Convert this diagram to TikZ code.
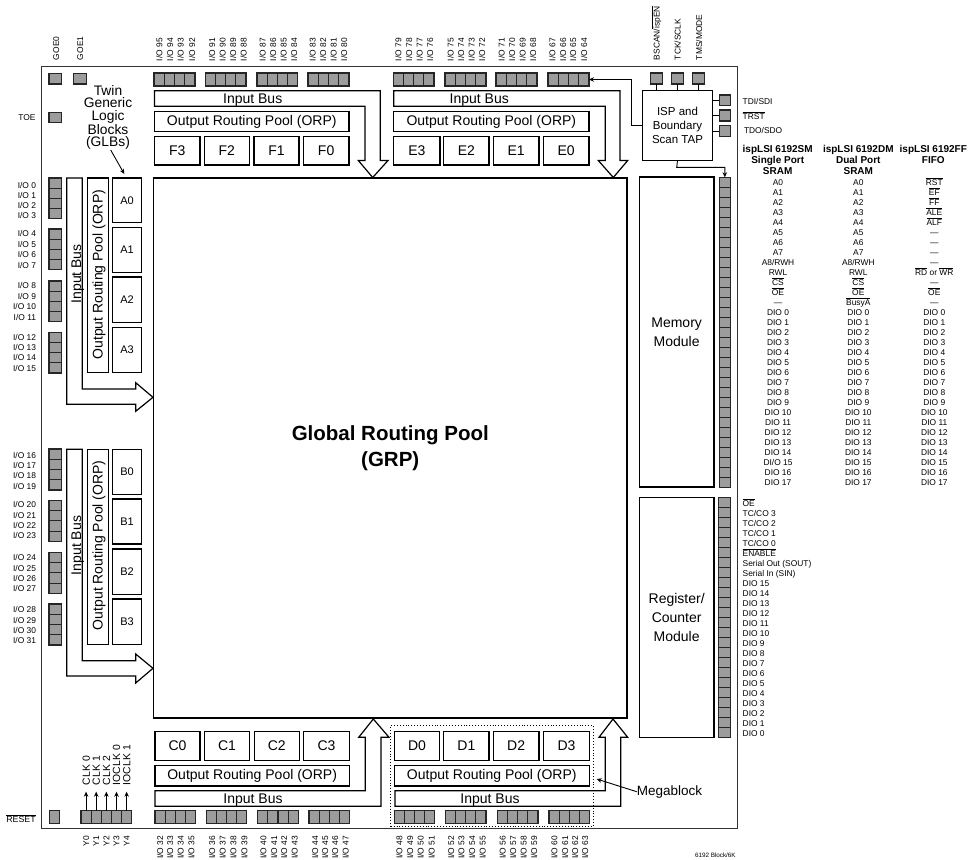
\documentclass[tikz,border=0pt]{standalone}
\usepackage{fontspec}
\setmainfont{Liberation Sans}
\usetikzlibrary{arrows.meta}
\definecolor{padgray}{HTML}{9C9C9C}
\definecolor{padline}{HTML}{262626}
\newcommand{\ol}[1]{$\overline{\mbox{#1}}$}
\newcommand{\bx}[6][]{%
  \pgfmathsetmacro\bxw{#5-#3}\pgfmathsetmacro\bxh{#6-#4}%
  \node[blockbox,minimum width=\bxw pt,minimum height=\bxh pt,#1] (#2) at ({(#3+#5)/2},{(#4+#6)/2}) {};}
\newcommand{\bxt}[7][]{%
  \pgfmathsetmacro\bxw{#5-#3}\pgfmathsetmacro\bxh{#6-#4}%
  \node[blockbox,minimum width=\bxw pt,minimum height=\bxh pt,#1] (#2) at ({(#3+#5)/2},{(#4+#6)/2}) {#7};}
\newcommand{\padsH}[6]{%
  \pgfmathsetmacro\pw{(#4-#2)/#6}\pgfmathsetmacro\ph{#5-#3}%
  \foreach \i in {1,...,#6}{%
    \node[padcell,minimum width=\pw pt,minimum height=\ph pt] (#1-\i) at ({#2+(\i-0.5)*\pw},{(#3+#5)/2}) {};}}
\newcommand{\padsV}[6]{%
  \pgfmathsetmacro\pw{#4-#2}\pgfmathsetmacro\ph{(#5-#3)/#6}%
  \foreach \i in {1,...,#6}{%
    \node[padcell,minimum width=\pw pt,minimum height=\ph pt] (#1-\i) at ({(#2+#4)/2},{#3+(\i-0.5)*\ph}) {};}}
\tikzset{
  blockbox/.style={draw=black,line width=1.2pt,inner sep=0pt,outer sep=0pt,align=center,font=\fontsize{14}{16}\selectfont},
  glbsmall/.style={font=\fontsize{11}{13}\selectfont},
  padcell/.style={draw=padline,fill=padgray,line width=1.1pt,inner sep=0pt,outer sep=0pt},
  busline/.style={draw=black,line width=1.2pt,line join=miter},
  pin/.style={inner sep=0pt,outer sep=0pt,font=\fontsize{8.4}{10}\selectfont,text height=6pt,text depth=0pt},
  busname/.style={inner sep=0pt,outer sep=0pt,font=\fontsize{14}{16}\selectfont,text height=10pt,text depth=0pt},
  headtext/.style={inner sep=0pt,outer sep=0pt,font=\bfseries\fontsize{10}{11}\selectfont,text height=7.2pt,text depth=0pt},
  wire/.style={draw=black,line width=0.9pt},
  wirearrow/.style={draw=black,line width=0.9pt,-{Stealth[length=5pt,width=4.5pt]}}
}
\begin{document}
\begin{tikzpicture}[x=1pt,y=-1pt]
\useasboundingbox (0,0) rectangle (976,859);
% frame
\bx[line width=0.9pt,draw=black!80]{frame}{41.6}{66.7}{737.7}{828.3}
% global routing pool
\bxt[line width=1.8pt,font=\bfseries\fontsize{20.5}{26}\selectfont]{grp}{153.5}{178}{627}{718}{Global Routing Pool\\(GRP)}
% top pads
\padsH{goeA}{49}{73.3}{61.7}{84}{1}
\padsH{goeB}{73.7}{73.3}{86.7}{84}{1}
\padsH{toep}{49}{112.3}{61.7}{122.3}{1}
\padsH{pF1}{154}{73}{195}{86}{4}
\padsH{pF2}{205.5}{73}{246}{86}{4}
\padsH{pF3}{257}{73}{297.5}{86}{4}
\padsH{pF4}{308}{73}{349}{86}{4}
\padsH{pE1}{393.3}{73}{434}{86}{4}
\padsH{pE2}{445}{73}{486}{86}{4}
\padsH{pE3}{496}{73}{537}{86}{4}
\padsH{pE4}{548}{73}{589}{86}{4}
% left pads
\padsV{pL1}{49}{178}{61.7}{218.3}{4}
\padsV{pL2}{49}{229}{61.7}{269.7}{4}
\padsV{pL3}{49}{281}{61.7}{321.7}{4}
\padsV{pL4}{49}{332.3}{61.7}{373}{4}
\padsV{pL5}{49}{449}{61.7}{490}{4}
\padsV{pL6}{49}{500.3}{61.7}{541.5}{4}
\padsV{pL7}{49}{552.3}{61.7}{593.3}{4}
\padsV{pL8}{49}{604}{61.7}{645}{4}
% bottom pads
\padsH{pC1}{155}{810.7}{195.7}{823.3}{4}
\padsH{pC2}{206.3}{810.7}{246.7}{823.3}{4}
\padsH{pC3}{257.7}{810.7}{298.3}{823.3}{4}
\padsH{pC4}{309}{810.7}{349.7}{823.3}{4}
\padsH{pD1}{394.3}{810.7}{434.7}{823.3}{4}
\padsH{pD2}{445.7}{810.7}{486}{823.3}{4}
\padsH{pD3}{497.3}{810.7}{538}{823.3}{4}
\padsH{pD4}{549}{810.7}{589.7}{823.3}{4}
\padsH{py}{81}{810.7}{131.7}{823.3}{5}
\padsH{prst}{49.3}{810.7}{59.3}{823.3}{1}
% right pads
\padsV{pMem}{719.3}{177.3}{730.3}{487.3}{31}
\padsV{pReg}{718.6}{497.7}{730.6}{737.7}{24}
% ORP boxes
\bxt{orpF}{154.5}{111.5}{349}{131.7}{Output Routing Pool (ORP)}
\bxt{orpE}{393.7}{111.5}{589}{131.7}{Output Routing Pool (ORP)}
\bxt{orpC}{155}{765.7}{349.3}{786}{Output Routing Pool (ORP)}
\bxt{orpD}{394.3}{765.7}{589.3}{786}{Output Routing Pool (ORP)}
\bx{orpA}{87.7}{178}{108.3}{372.7}
\bx{orpB}{87.7}{449.3}{108.3}{644.7}
\node[busname,rotate=90] (orpAt) at (97.7,274.7) {Output Routing Pool (ORP)};
\node[busname,rotate=90] (orpBt) at (97.7,545.3) {Output Routing Pool (ORP)};
% GLB boxes
\bxt{F3}{154.7}{136.5}{200}{165}{F3}
\bxt{F2}{204.3}{136.5}{249.3}{165}{F2}
\bxt{F1}{254}{136.5}{299}{165}{F1}
\bxt{F0}{303.3}{136.5}{349}{165}{F0}
\bxt{E3}{393.7}{136.5}{440}{165}{E3}
\bxt{E2}{443.7}{136.5}{489}{165}{E2}
\bxt{E1}{493.3}{136.5}{539}{165}{E1}
\bxt{E0}{543.3}{136.5}{589}{165}{E0}
\bxt{C0}{155}{731.7}{200}{760.3}{C0}
\bxt{C1}{204.3}{731.7}{249.7}{760.3}{C1}
\bxt{C2}{254.3}{731.7}{299.3}{760.3}{C2}
\bxt{C3}{303.7}{731.7}{349.3}{760.3}{C3}
\bxt{D0}{394.3}{731.7}{439.7}{760.3}{D0}
\bxt{D1}{443.7}{731.7}{489}{760.3}{D1}
\bxt{D2}{493.3}{731.7}{539}{760.3}{D2}
\bxt{D3}{543.7}{731.7}{589.3}{760.3}{D3}
\bxt[glbsmall]{A0}{112.7}{178}{141.3}{222.7}{A0}
\bxt[glbsmall]{A1}{112.7}{227.3}{141.3}{272.7}{A1}
\bxt[glbsmall]{A2}{112.7}{277}{141.3}{322.7}{A2}
\bxt[glbsmall]{A3}{112.7}{327.3}{141.3}{372.7}{A3}
\bxt[glbsmall]{B0}{112.7}{449.3}{141.3}{494.3}{B0}
\bxt[glbsmall]{B1}{112.7}{499}{141.3}{544}{B1}
\bxt[glbsmall]{B2}{112.7}{549}{141.3}{594.3}{B2}
\bxt[glbsmall]{B3}{112.7}{599}{141.3}{644.7}{B3}
% input buses
\draw[busline] (154.5,90.7) -- (380.3,90.7) -- (380.3,160.5) -- (388,160.5) -- (372.7,177.5) -- (358.3,160.5) -- (365,160.5) -- (365,106.3) -- (154.5,106.3) -- cycle;
\draw[busline] (393.7,90.7) -- (620,90.7) -- (620,160.5) -- (627.7,160.5) -- (613.3,177.5) -- (598.3,160.5) -- (605.3,160.5) -- (605.3,106.3) -- (393.7,106.3) -- cycle;
\draw[busline] (155,806.3) -- (381,806.3) -- (381,737.3) -- (389,737.3) -- (373.3,719) -- (358.7,737.3) -- (365.3,737.3) -- (365.3,790.7) -- (155,790.7) -- cycle;
\draw[busline] (395,806.3) -- (620.7,806.3) -- (620.7,737.3) -- (627.7,737.3) -- (613,719) -- (599,737.3) -- (605.3,737.3) -- (605.3,790.7) -- (395,790.7) -- cycle;
\draw[busline] (66.7,178) -- (82.3,178) -- (82.3,389) -- (135.7,389) -- (135.7,382.7) -- (153,397.3) -- (135.7,411.3) -- (135.7,404.3) -- (66.7,404.3) -- cycle;
\draw[busline] (66.7,449.3) -- (82.3,449.3) -- (82.3,660.7) -- (135.7,660.7) -- (135.7,654) -- (153,668.3) -- (135.7,683) -- (135.7,676) -- (66.7,676) -- cycle;
\node[busname] (ibF) at (252.7,98) {Input Bus};
\node[busname] (ibE) at (479.3,98) {Input Bus};
\node[busname] (ibC) at (253,798.5) {Input Bus};
\node[busname] (ibD) at (490,798.5) {Input Bus};
\node[busname,rotate=90] (ibA) at (76,273.8) {Input Bus};
\node[busname,rotate=90] (ibB) at (76,545.5) {Input Bus};
% megablock
\node[draw=black,dotted,line width=0.9pt,inner sep=0pt,minimum width=202.6pt,minimum height=100.6pt] (megabox) at (492,776) {};
\node[inner sep=0pt,anchor=west,font=\fontsize{13.5}{15}\selectfont] (megablock) at (636.7,791.7) {Megablock};
\coordinate (megaend) at (596.7,779);
\draw[wirearrow] (megablock.west) -- (megaend);
% twin GLB label
\node[inner sep=0pt,align=center,font=\fontsize{13.8}{12.4}\selectfont] (twin) at (108,117.5) {Twin\\Generic\\Logic\\Blocks\\(GLBs)};
\coordinate (twinend) at (124.3,174);
\coordinate (twinstart) at (110.7,150);
\draw[wirearrow] (twinstart) -- (twinend);
% TAP
\bxt[font=\fontsize{11.5}{14.2}\selectfont]{tap}{642.3}{90.3}{712.7}{160.7}{ISP and\\Boundary\\Scan TAP}
\padsH{ptB}{650.7}{73}{662.3}{84}{1}
\padsH{ptC}{671.7}{73}{683.7}{84}{1}
\padsH{ptM}{692.7}{73}{704.7}{84}{1}
\padsH{prI}{719.3}{95}{730.3}{105.7}{1}
\padsH{prR}{719.3}{110}{730.3}{121}{1}
\padsH{prO}{719.3}{125.7}{730.3}{136.5}{1}
\draw[wire] (ptB-1.south) -- (ptB-1.south |- tap.north);
\draw[wire] (ptC-1.south) -- (ptC-1.south |- tap.north);
\draw[wire] (ptM-1.south) -- (ptM-1.south |- tap.north);
\draw[wire] (prI-1.west) -- (prI-1.west -| tap.east);
\draw[wire] (prR-1.west) -- (prR-1.west -| tap.east);
\draw[wire] (prO-1.west) -- (prO-1.west -| tap.east);
\coordinate (tapbend) at (631.7,125.5);
\draw[wirearrow] (tap.west) -- (tapbend) |- (pE4-4.east);
\coordinate (tapdrop) at (676.7,167.3);
\draw[wirearrow] (tap.south) -- (tapdrop) -| (pMem-1.north);
% modules
\bxt{mem}{639.3}{177}{714}{487}{Memory\\[3pt]Module}
\bxt{reg}{639.3}{497.5}{714}{737.7}{Register/\\[3pt]Counter\\[3pt]Module}
% clock arrows
\foreach \t [count=\i] in {CLK 0,CLK 1,CLK 2,IOCLK 0,IOCLK 1}{
  \node[pin,rotate=90,anchor=west,font=\fontsize{10.4}{12}\selectfont,text height=7.4pt] (clk\i) at (py-\i.center |- 0,785) {\t};
  \draw[wirearrow,shorten >=6.7pt] (py-\i.north) -- (clk\i.west);
}
\foreach \t [count=\i] in {Y0,Y1,Y2,Y3,Y4}{
  \node[pin,rotate=90,anchor=east] (ylab\i) at (py-\i.center |- 0,836) {\t};
}
% top labels
\foreach \x/\t in {159.3/95,170/94,180.7/93,192/92,212/91,222.7/90,233/89,243.7/88,262.7/87,273/86,283.7/85,294/84,312.7/83,323/82,333.7/81,344/80,398.3/79,409/78,419.7/77,430/76,450.7/75,461/74,471.7/73,482/72,501.7/71,512/70,522.7/69,533/68,552.3/67,563/66,573/65,584/64}{
  \node[pin,rotate=90,anchor=west] (io\t) at (\x,61) {I/O \t};
}
% bottom labels
\foreach \x/\t in {160/32,170/33,180.7/34,191.3/35,212/36,222.7/37,233.3/38,244.3/39,263.3/40,274/41,284/42,294.7/43,315/44,325/45,335/46,345.7/47,399.3/48,410/49,420.7/50,431.7/51,451/52,461.3/53,472/54,482.7/55,502.7/56,513/57,523.7/58,534/59,554.3/60,565/61,575/62,585/63}{
  \node[pin,rotate=90,anchor=east] (io\t) at (\x,836) {I/O \t};
}
% left labels
\foreach \y/\t in {185/0,195/1,205.3/2,215.5/3,233.7/4,244/5,254.5/6,265/7,285.7/8,296/9,306.7/10,317/11,337.3/12,347.3/13,357.7/14,368/15,455/16,465.3/17,475.7/18,486/19,504.7/20,515/21,525.3/22,535.7/23,557.3/24,568/25,578.3/26,588.7/27,609.3/28,620/29,630/30,640/31}{
  \node[pin,anchor=east] (io\t) at (36,\y) {I/O \t};
}
\node[pin,anchor=east] (toe) at (35.5,117.7) {TOE};
\node[pin,anchor=east,font=\fontsize{8.8}{10}\selectfont] (rst) at (35.7,819.3) {\ol{RESET}};
\node[pin,rotate=90,anchor=west] (goe0) at (56,60) {GOE0};
\node[pin,rotate=90,anchor=west] (goe1) at (80,60) {GOE1};
\node[pin,rotate=90,anchor=west] (bscan) at (656.7,60) {BSCAN/\ol{ispEN}};
\node[pin,rotate=90,anchor=west] (tck) at (677.7,60) {TCK/SCLK};
\node[pin,rotate=90,anchor=west] (tms) at (699,60) {TMS/MODE};
\node[pin,anchor=west] (tdi) at (742.7,101.7) {TDI/SDI};
\node[pin,anchor=west] (trst) at (742.7,116.7) {\ol{TRST}};
\node[pin,anchor=west] (tdo) at (744,130) {TDO/SDO};
% column headers
\node[headtext] (h1a) at (777.7,149.3) {ispLSI 6192SM};
\node[headtext] (h1b) at (777.7,160) {Single Port};
\node[headtext] (h1c) at (777.7,171) {SRAM};
\node[headtext] (h2a) at (858.3,149.3) {ispLSI 6192DM};
\node[headtext] (h2b) at (858.3,160) {Dual Port};
\node[headtext] (h2c) at (858.3,171) {SRAM};
\node[headtext] (h3a) at (933.3,149.3) {ispLSI 6192FF};
\node[headtext] (h3b) at (933.3,160) {FIFO};
% columns
\foreach \t [count=\i] in {A0,A1,A2,A3,A4,A5,A6,A7,A8/RWH,RWL,\ol{CS},\ol{OE},—,DIO 0,DIO 1,DIO 2,DIO 3,DIO 4,DIO 5,DIO 6,DIO 7,DIO 8,DIO 9,DIO 10,DIO 11,DIO 12,DIO 13,DIO 14,DI/O 15,DIO 16,DIO 17}{
  \node[pin] (ca\i) at (778,{182.7+(\i-1)*9.99}) {\t};
}
\foreach \t [count=\i] in {A0,A1,A2,A3,A4,A5,A6,A7,A8/RWH,RWL,\ol{CS},\ol{OE},\ol{BusyA},DIO 0,DIO 1,DIO 2,DIO 3,DIO 4,DIO 5,DIO 6,DIO 7,DIO 8,DIO 9,DIO 10,DIO 11,DIO 12,DIO 13,DIO 14,DIO 15,DIO 16,DIO 17}{
  \node[pin] (cb\i) at (858.3,{182.7+(\i-1)*9.99}) {\t};
}
\foreach \t [count=\i] in {\ol{RST},\ol{EF},\ol{FF},\ol{ALE},\ol{ALF},—,—,—,—,\ol{RD} or \ol{WR},—,\ol{OE},—,DIO 0,DIO 1,DIO 2,DIO 3,DIO 4,DIO 5,DIO 6,DIO 7,DIO 8,DIO 9,DIO 10,DIO 11,DIO 12,DIO 13,DIO 14,DIO 15,DIO 16,DIO 17}{
  \node[pin] (cc\i) at (934.3,{182.7+(\i-1)*9.99}) {\t};
}
% register column
\foreach \t [count=\i] in {\ol{OE},TC/CO 3,TC/CO 2,TC/CO 1,TC/CO 0,\ol{ENABLE},Serial Out (SOUT),Serial In (SIN),DIO 15,DIO 14,DIO 13,DIO 12,DIO 11,DIO 10,DIO 9,DIO 8,DIO 7,DIO 6,DIO 5,DIO 4,DIO 3,DIO 2,DIO 1,DIO 0}{
  \node[pin,anchor=west] (cr\i) at (742.7,{503.3+(\i-1)*10}) {\t};
}
\node[pin,font=\fontsize{6.3}{7}\selectfont,text height=4.5pt,anchor=east] (foot) at (735.7,855) {6192 Block/6K};
\end{tikzpicture}
\end{document}
